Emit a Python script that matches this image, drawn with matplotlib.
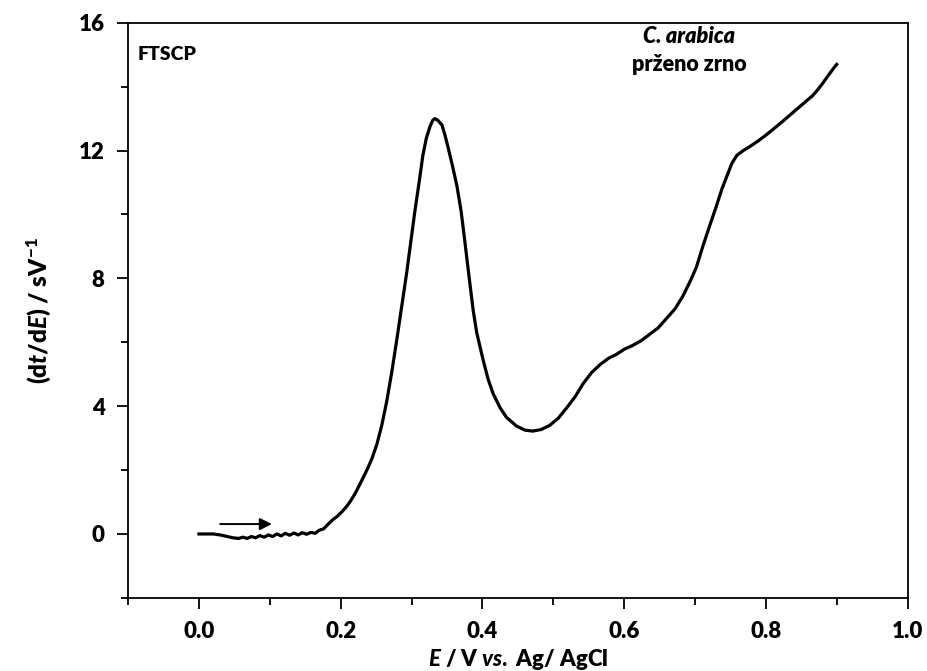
import matplotlib
matplotlib.use('Agg')
import matplotlib.pyplot as plt
from matplotlib.ticker import MultipleLocator

plt.rcParams['font.family'] = ['Lato', 'DejaVu Sans']
plt.rcParams['font.weight'] = 'heavy'
plt.rcParams['axes.labelweight'] = 'heavy'
plt.rcParams['mathtext.fontset'] = 'custom'
plt.rcParams['mathtext.rm'] = 'Lato:weight=900'
plt.rcParams['mathtext.it'] = 'Lato:weight=black:slant=italic'
plt.rcParams['mathtext.bf'] = 'Lato:weight=900'

# potential (V vs Ag/AgCl) and dt/dE (s/V)
E = [0.000, 0.010, 0.020, 0.030, 0.040, 0.048, 0.056, 0.062, 0.068, 0.074,
     0.080, 0.086, 0.092, 0.098, 0.104, 0.110, 0.116, 0.122, 0.128, 0.134,
     0.140, 0.146, 0.152, 0.158, 0.164, 0.170, 0.176, 0.182, 0.189, 0.195,
     0.202, 0.208, 0.213, 0.220, 0.227, 0.237, 0.244, 0.251, 0.258, 0.265,
     0.272, 0.279, 0.286, 0.293, 0.299, 0.305, 0.311, 0.316, 0.321, 0.326,
     0.330, 0.333, 0.337, 0.343, 0.347, 0.351, 0.357, 0.364, 0.370, 0.375,
     0.382, 0.387, 0.392, 0.401, 0.408, 0.415, 0.425, 0.434, 0.448, 0.460,
     0.471, 0.483, 0.495, 0.507, 0.519, 0.531, 0.542, 0.554, 0.566, 0.578,
     0.589, 0.600, 0.612, 0.624, 0.636, 0.648, 0.660, 0.672, 0.683, 0.693,
     0.702, 0.711, 0.720, 0.730, 0.738, 0.745, 0.752, 0.759, 0.768, 0.777,
     0.789, 0.801, 0.812, 0.824, 0.836, 0.848, 0.857, 0.866, 0.873, 0.880,
     0.888, 0.897, 0.900]
dtdE = [0.00, 0.00, 0.00, -0.03, -0.08, -0.12, -0.14, -0.10, -0.14, -0.08,
        -0.12, -0.05, -0.10, -0.03, -0.08, 0.00, -0.06, 0.02, -0.04, 0.03,
        -0.03, 0.04, -0.01, 0.05, 0.02, 0.12, 0.16, 0.30, 0.45, 0.55,
        0.70, 0.85, 1.00, 1.25, 1.55, 2.00, 2.35, 2.80, 3.40, 4.15,
        5.05, 6.05, 7.10, 8.15, 9.15, 10.15, 11.05, 11.85, 12.40, 12.75,
        12.95, 13.00, 12.95, 12.80, 12.50, 12.15, 11.60, 10.90, 10.10, 9.20,
        7.90, 7.00, 6.30, 5.45, 4.85, 4.40, 3.95, 3.65, 3.38, 3.25,
        3.22, 3.27, 3.40, 3.62, 3.95, 4.30, 4.70, 5.05, 5.30, 5.50,
        5.62, 5.78, 5.90, 6.05, 6.25, 6.45, 6.75, 7.05, 7.45, 7.90,
        8.35, 9.00, 9.60, 10.25, 10.80, 11.20, 11.60, 11.85, 12.00, 12.12,
        12.30, 12.50, 12.70, 12.92, 13.15, 13.38, 13.55, 13.72, 13.90, 14.10,
        14.35, 14.62, 14.70]

fig = plt.figure(figsize=(9.28, 6.71), dpi=100)
ax = fig.add_axes([0.138, 0.109, 0.84, 0.857])

ax.plot(E, dtdE, color='black', lw=2.3)

ax.annotate('', xy=(0.103, 0.31), xytext=(0.030, 0.31),
            arrowprops=dict(arrowstyle='-|>', color='black', lw=1.4,
                            mutation_scale=18, shrinkA=0, shrinkB=0))

ax.set_xlim(-0.1, 1.0)
ax.set_ylim(-2, 16)
ax.xaxis.set_major_locator(MultipleLocator(0.2))
ax.xaxis.set_minor_locator(MultipleLocator(0.1))
ax.yaxis.set_major_locator(MultipleLocator(4))
ax.yaxis.set_minor_locator(MultipleLocator(2))
ax.xaxis.set_major_formatter(matplotlib.ticker.FormatStrFormatter('%.1f'))
ax.tick_params(which='both', direction='out', width=1.3, top=False, right=False,
               labelsize=16, pad=9)
ax.tick_params(which='major', length=8)
ax.tick_params(which='minor', length=5)
for s in ax.spines.values():
    s.set_linewidth(1.3)

ax.set_xlabel(r'$\mathit{E}$ / V $\mathit{vs.}$ Ag/ AgCl', fontsize=16,
              fontweight='heavy', labelpad=3)
ax.set_ylabel(r'(d$\mathit{t}$/d$\mathit{E}$) / sV$^{\mathbf{-1}}$', fontsize=17.5,
              fontweight='heavy', labelpad=18)

ax.text(0.012, 0.96, 'FTSCP', transform=ax.transAxes, fontsize=14,
        va='top', ha='left')
ax.text(0.72, 0.995, 'C. arabica', transform=ax.transAxes, fontsize=15.5,
        style='italic', va='top', ha='center')
ax.text(0.72, 0.945, 'prženo zrno', transform=ax.transAxes, fontsize=15.5,
        va='top', ha='center')

fig.savefig('out.png', dpi=100)
